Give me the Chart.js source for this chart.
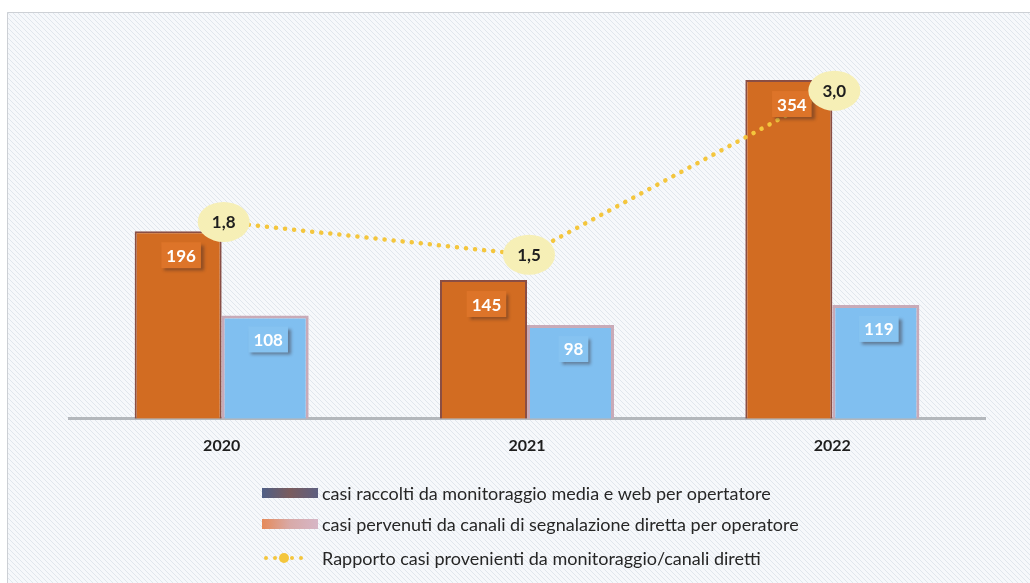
<!DOCTYPE html>
<html>
<head>
<meta charset="utf-8">
<script src="https://cdn.jsdelivr.net/npm/chart.js@4.4.1/dist/chart.umd.min.js"></script>
<style>
  html, body { margin: 0; padding: 0; background: #fff; }
  #box { width: 1030px; height: 583px; }
</style>
</head>
<body>
<div id="box"><canvas id="myChart" width="1030" height="583"></canvas></div>
<script>

var years = ['2020', '2021', '2022'];
var mediaWeb = [196, 145, 354];
var canaliDiretti = [108, 98, 119];
var rapporto = [1.8, 1.5, 3.0];

var legendLabels = [
	'casi raccolti da monitoraggio media e web per opertatore',
	'casi pervenuti da canali di segnalazione diretta per operatore',
	'Rapporto casi provenienti da monitoraggio/canali diretti'
];

var FONT = 'Lato, "Open Sans", sans-serif';

function makeHatch(ctx){
	var c = document.createElement('canvas');
	c.width = 5; c.height = 5;
	var g = c.getContext('2d');
	g.fillStyle = '#f6f8fb';
	g.fillRect(0, 0, 5, 5);
	g.strokeStyle = 'rgba(190,200,216,0.38)';
	g.lineWidth = 1;
	g.beginPath();
	g.moveTo(-1, -1); g.lineTo(6, 6);
	g.moveTo(-1, 4); g.lineTo(1, 6);
	g.moveTo(4, -1); g.lineTo(6, 1);
	g.stroke();
	return ctx.createPattern(c, 'repeat');
}

function fmt(v){
	return v.toFixed(1).replace('.', ',');
}

// background + frame
var bgPlugin = {
	id: 'bg',
	beforeDraw: function(chart){
		var ctx = chart.ctx;
		ctx.save();
		ctx.fillStyle = '#ffffff';
		ctx.fillRect(0, 0, chart.width, chart.height);
		ctx.fillStyle = makeHatch(ctx);
		ctx.fillRect(7, 12, chart.width - 7, chart.height - 12);
		ctx.strokeStyle = '#cdd0d5';
		ctx.lineWidth = 1;
		ctx.beginPath();
		ctx.moveTo(7.5, chart.height);
		ctx.lineTo(7.5, 12.5);
		ctx.lineTo(chart.width, 12.5);
		ctx.stroke();
		ctx.restore();
	}
};

// value boxes on the bars and ellipses on the ratio line
var labelPlugin = {
	id: 'labels',
	afterDatasetsDraw: function(chart){
		var ctx = chart.ctx;
		var boxColors = ['#dd7429', '#86c3f1'];
		ctx.save();
		ctx.font = 'bold 17px ' + FONT;
		ctx.textAlign = 'center';
		ctx.textBaseline = 'middle';

		[0, 1].forEach(function(di){
			var meta = chart.getDatasetMeta(di);
			meta.data.forEach(function(el, i){
				var txt = String(chart.data.datasets[di].data[i]);
				var w = ctx.measureText(txt).width + 10;
				var cx = el.x + 3, cy = el.y + 24;
				ctx.save();
				ctx.shadowColor = 'rgba(60,40,40,0.45)';
				ctx.shadowOffsetX = 3;
				ctx.shadowOffsetY = 3;
				ctx.shadowBlur = 3;
				ctx.fillStyle = boxColors[di];
				ctx.fillRect(cx - w / 2, cy - 13, w, 26);
				ctx.restore();
				ctx.fillStyle = '#ffffff';
				ctx.fillText(txt, cx, cy + 1);
			});
		});

		var lmeta = chart.getDatasetMeta(2);
		lmeta.data.forEach(function(el, i){
			ctx.fillStyle = '#f6efb6';
			ctx.beginPath();
			ctx.ellipse(el.x + 2, el.y, 26, 20, 0, 0, Math.PI * 2);
			ctx.fill();
			ctx.fillStyle = '#1e1e1e';
			ctx.fillText(fmt(rapporto[i]), el.x + 2, el.y + 1);
		});
		ctx.restore();
	}
};

// legend drawn as a vertical list under the axis
var legendPlugin = {
	id: 'vlegend',
	afterDraw: function(chart){
		var ctx = chart.ctx;
		var rows = [493, 524, 558];
		ctx.save();
		ctx.font = '18px ' + FONT;
		ctx.textBaseline = 'middle';
		ctx.textAlign = 'left';

		var g1 = ctx.createLinearGradient(262, 0, 318, 0);
		g1.addColorStop(0, '#4f5f86');
		g1.addColorStop(0.5, '#7a5c5e');
		g1.addColorStop(1, '#5d5f80');
		ctx.fillStyle = g1;
		ctx.fillRect(262, rows[0] - 5, 56, 10);

		var g2 = ctx.createLinearGradient(262, 0, 318, 0);
		g2.addColorStop(0, '#e58a5a');
		g2.addColorStop(0.5, '#d8aaa8');
		g2.addColorStop(1, '#d6b6c6');
		ctx.fillStyle = g2;
		ctx.fillRect(262, rows[1] - 5, 56, 10);

		ctx.fillStyle = '#f4c63d';
		[266, 275, 292, 301].forEach(function(x){
			ctx.beginPath();
			ctx.arc(x, rows[2], 2, 0, Math.PI * 2);
			ctx.fill();
		});
		ctx.beginPath();
		ctx.arc(284, rows[2], 5, 0, Math.PI * 2);
		ctx.fill();

		ctx.fillStyle = '#262626';
		legendLabels.forEach(function(t, i){
			ctx.fillText(t, 322, rows[i] + 1);
		});
		ctx.restore();
	}
};

var ctx = document.getElementById('myChart').getContext('2d');
var chart = new Chart(ctx, {
	data: {
		labels: years,
		datasets: [{
			type: 'bar',
			label: legendLabels[0],
			data: mediaWeb,
			backgroundColor: '#d26c22',
			borderColor: '#8a4e44',
			borderWidth: 2,
			yAxisID: 'y',
			order: 2
		}, {
			type: 'bar',
			label: legendLabels[1],
			data: canaliDiretti,
			backgroundColor: '#80bff0',
			borderColor: '#c8aab8',
			borderWidth: 3,
			yAxisID: 'y',
			order: 2
		}, {
			type: 'line',
			label: legendLabels[2],
			data: rapporto,
			borderColor: '#f4c63d',
			borderWidth: 4.5,
			borderDash: [0.1, 9],
			borderCapStyle: 'round',
			pointRadius: 0,
			fill: false,
			tension: 0,
			yAxisID: 'y1',
			order: 1
		}]
	},
	options: {
		responsive: false,
		animation: false,
		layout: { padding: { left: 69, right: 45, top: 36, bottom: 119 } },
		datasets: {
			bar: { categoryPercentage: 0.57, barPercentage: 1.0 }
		},
		plugins: {
			legend: { display: false },
			tooltip: { enabled: false }
		},
		scales: {
			x: {
				grid: { display: false },
				border: { display: true, color: '#b3b7bc', width: 3 },
				ticks: {
					color: '#1e1e1e',
					padding: 9,
					font: { family: FONT, size: 16, weight: 'bold' }
				}
			},
			y: { display: false, min: 0, max: 400 },
			y1: { display: false, min: 0, max: 3.5 }
		}
	},
	plugins: [bgPlugin, labelPlugin, legendPlugin]
});

</script>
</body>
</html>
